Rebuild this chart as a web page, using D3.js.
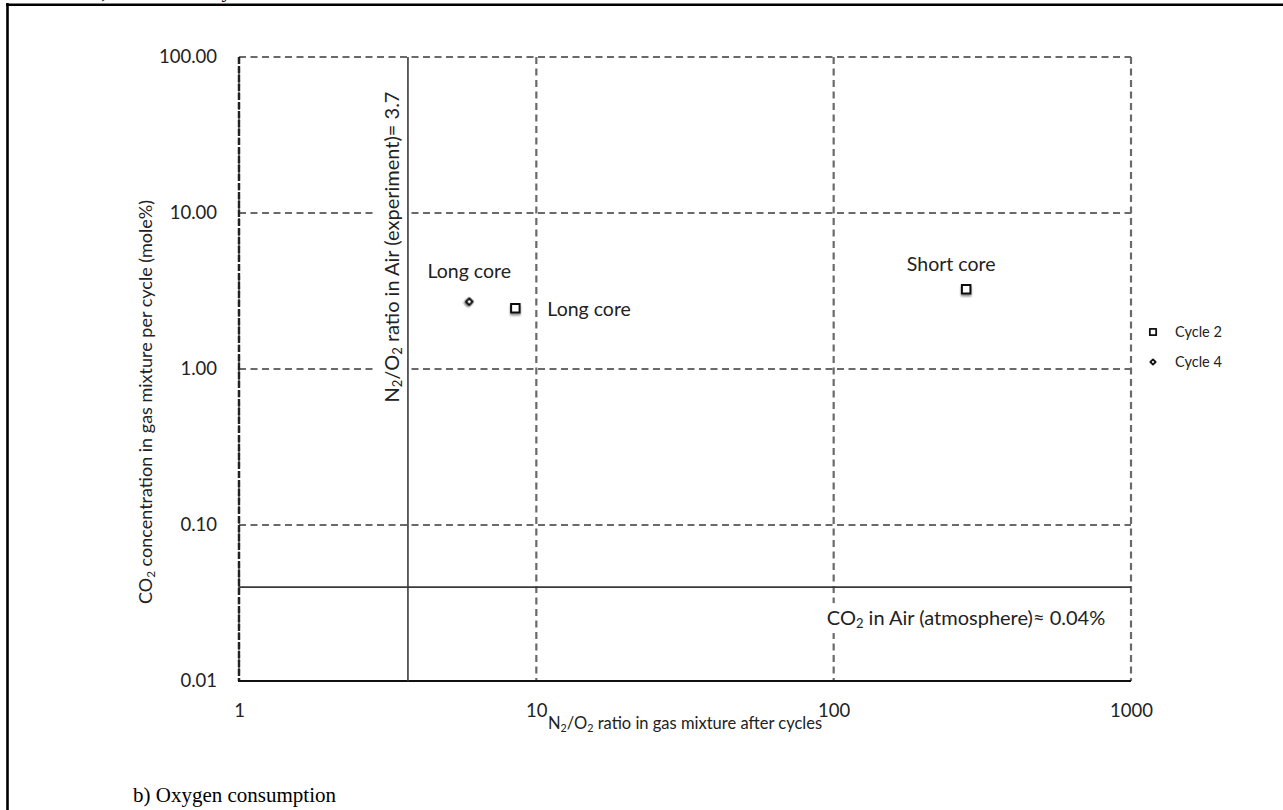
<!DOCTYPE html>
<html>
<head>
<meta charset="utf-8">
<script src="https://cdn.jsdelivr.net/npm/d3@7"></script>
<style>
  html, body { margin: 0; padding: 0; background: #fff; }
  svg { display: block; }
</style>
</head>
<body>
<svg id="chart" width="1283" height="810"></svg>
<script>
// Tick values for both logarithmic axes
const xTicks = [1, 10, 100, 1000];
const yTicks = [0.01, 0.1, 1, 10, 100];

// Measured samples: N2/O2 ratio after cycles vs CO2 concentration per cycle
const seriesNames = ["Cycle 2", "Cycle 4"];
const cycle2Ratio = [8.5, 279];
const cycle2CO2 = [2.45, 3.25];
const cycle2Labels = ["Long core", "Short core"];
const cycle4Ratio = [5.95];
const cycle4CO2 = [2.7];
const cycle4Labels = ["Long core"];

// Reference values for air
const airRatio = 3.7;
const airCO2 = 0.04;

const svg = d3.select("#chart");
const font = "Lato, 'Open Sans', sans-serif";

const x = d3.scaleLog().domain([1, 1000]).range([239, 1131]);
const y = d3.scaleLog().domain([0.01, 100]).range([681, 57]);

const defs = svg.append("defs");
const shadow = defs.append("filter").attr("id", "shadow")
  .attr("x", "-50%").attr("y", "-50%").attr("width", "200%").attr("height", "220%");
shadow.append("feGaussianBlur").attr("in", "SourceAlpha").attr("stdDeviation", 1.3).attr("result", "b");
shadow.append("feOffset").attr("in", "b").attr("dx", 0).attr("dy", 2).attr("result", "o");
shadow.append("feComponentTransfer").attr("in", "o").attr("result", "s")
  .append("feFuncA").attr("type", "linear").attr("slope", 0.45);
const merge = shadow.append("feMerge");
merge.append("feMergeNode").attr("in", "s");
merge.append("feMergeNode").attr("in", "SourceGraphic");

// Page frame lines and surrounding captions
svg.append("line").attr("x1", 7.5).attr("x2", 7.5).attr("y1", 3).attr("y2", 810)
  .attr("stroke", "#000").attr("stroke-width", 2.6);
svg.append("line").attr("x1", 6).attr("x2", 1283).attr("y1", 4.8).attr("y2", 4.8)
  .attr("stroke", "#000").attr("stroke-width", 2.6);
svg.append("text").attr("x", 92).attr("y", -3)
  .attr("font-family", "'Liberation Serif', 'Times New Roman', serif").attr("font-size", 21)
  .text("a) CO2 recovery");
svg.append("text").attr("x", 133).attr("y", 802)
  .attr("font-family", "'Liberation Serif', 'Times New Roman', serif").attr("font-size", 21)
  .attr("fill", "#000")
  .text("b) Oxygen consumption");

// Dashed grid
const grid = svg.append("g").attr("stroke", "#6a6a6a").attr("stroke-width", 2.2)
  .attr("stroke-dasharray", "7,4.5").attr("fill", "none");
grid.selectAll(".gy").data(yTicks.filter(d => d > 0.01)).join("line")
  .attr("x1", x(1)).attr("x2", x(1000))
  .attr("y1", d => y(d)).attr("y2", d => y(d));
grid.selectAll(".gx").data(xTicks).join("line")
  .attr("y1", y(100)).attr("y2", y(0.01))
  .attr("x1", d => x(d)).attr("x2", d => x(d));

// Axis lines
svg.append("line").attr("x1", x(1)).attr("x2", x(1)).attr("y1", y(100)).attr("y2", y(0.01))
  .attr("stroke", "#222").attr("stroke-width", 2.4).attr("stroke-dasharray", "7,2");
svg.append("line").attr("x1", x(1) - 1).attr("x2", x(1000)).attr("y1", y(0.01)).attr("y2", y(0.01))
  .attr("stroke", "#111").attr("stroke-width", 2);

// Reference lines for air
svg.append("line").attr("x1", x(airRatio)).attr("x2", x(airRatio))
  .attr("y1", y(100)).attr("y2", y(0.01)).attr("stroke", "#3a3a3a").attr("stroke-width", 1.6);
svg.append("line").attr("x1", x(1)).attr("x2", x(1000))
  .attr("y1", y(airCO2)).attr("y2", y(airCO2)).attr("stroke", "#3a3a3a").attr("stroke-width", 1.6);

// Axes ticks
const xAxis = svg.append("g").attr("transform", `translate(0,${y(0.01)})`)
  .call(d3.axisBottom(x).tickValues(xTicks).tickFormat(d3.format("d")).tickSize(0).tickPadding(23));
const yAxis = svg.append("g").attr("transform", `translate(${x(1)},0)`)
  .call(d3.axisLeft(y).tickValues(yTicks).tickFormat(d3.format(".2f")).tickSize(0).tickPadding(22));
[xAxis, yAxis].forEach(a => {
  a.select(".domain").remove();
  a.selectAll("text").attr("font-family", font).attr("font-size", 18.5).attr("fill", "#222");
});

// Axis titles with subscripts
function subText(sel, parts, size) {
  parts.forEach(p => {
    const t = sel.append("tspan").text(p[0]);
    if (p[1]) t.attr("font-size", size * 0.65).attr("baseline-shift", "-25%");
  });
}
const xt = svg.append("text").attr("x", 685).attr("y", 729).attr("text-anchor", "middle")
  .attr("font-family", font).attr("font-size", 16.5).attr("fill", "#222");
subText(xt, [["N"], ["2", true], ["/O"], ["2", true], [" ratio in gas mixture after cycles"]], 16.5);

const yt = svg.append("text").attr("transform", "translate(152,402) rotate(-90)")
  .attr("text-anchor", "middle").attr("font-family", font).attr("font-size", 18).attr("fill", "#222");
subText(yt, [["CO"], ["2", true], [" concentration in gas mixture per cycle (mole%)"]], 18);

// Annotation boxes for the air reference values
const vLabel = svg.append("g").attr("transform", `translate(${x(airRatio) - 16},247) rotate(-90)`);
vLabel.append("rect").attr("x", -172).attr("y", -15).attr("width", 344).attr("height", 30).attr("fill", "#fff");
const vt = vLabel.append("text").attr("text-anchor", "middle").attr("dy", "0.35em")
  .attr("font-family", font).attr("font-size", 20).attr("fill", "#222");
subText(vt, [["N"], ["2", true], ["/O"], ["2", true], [" ratio in Air (experiment)= " + airRatio]], 20);

const hLabel = svg.append("g").attr("transform", `translate(966,${y(airCO2) + 31})`);
hLabel.append("rect").attr("x", -150).attr("y", -15).attr("width", 300).attr("height", 30).attr("fill", "#fff");
const ht = hLabel.append("text").attr("text-anchor", "middle").attr("dy", "0.35em")
  .attr("font-family", font).attr("font-size", 20).attr("fill", "#222");
subText(ht, [["CO"], ["2", true], [" in Air (atmosphere)\u2248 " + airCO2 + "%"]], 20);

// Data markers
const c2 = cycle2Ratio.map((r, i) => ({ r, c: cycle2CO2[i], label: cycle2Labels[i] }));
const c4 = cycle4Ratio.map((r, i) => ({ r, c: cycle4CO2[i], label: cycle4Labels[i] }));

const square = d3.symbol().type(d3.symbolSquare).size(72);
const diamond = d3.symbol().type(d3.symbolSquare).size(22);

svg.append("g").selectAll("path").data(c2).join("path")
  .attr("d", square).attr("transform", d => `translate(${x(d.r)},${y(d.c)})`)
  .attr("fill", "#fff").attr("stroke", "#111").attr("stroke-width", 2).attr("filter", "url(#shadow)");
svg.append("g").selectAll("path").data(c4).join("path")
  .attr("d", diamond).attr("transform", d => `translate(${x(d.r)},${y(d.c)}) rotate(45)`)
  .attr("fill", "#fff").attr("stroke", "#111").attr("stroke-width", 2.2)
  .attr("stroke-linejoin", "round").attr("filter", "url(#shadow)");

// Point labels
const lab = svg.append("g").attr("font-family", font).attr("font-size", 19.5).attr("fill", "#222");
lab.append("text").attr("x", x(c4[0].r)).attr("y", y(c4[0].c) - 24)
  .attr("text-anchor", "middle").text(c4[0].label);
lab.append("text").attr("x", x(c2[0].r) + 32).attr("y", y(c2[0].c) + 8).text(c2[0].label);
lab.append("text").attr("x", x(c2[1].r) - 15).attr("y", y(c2[1].c) - 18)
  .attr("text-anchor", "middle").text(c2[1].label);

// Legend
const legend = svg.append("g").attr("transform", "translate(1153,332)");
seriesNames.forEach((name, i) => {
  const g = legend.append("g").attr("transform", `translate(0,${i * 30})`);
  g.append("path")
    .attr("d", i === 0 ? d3.symbol().type(d3.symbolSquare).size(40)() : d3.symbol().type(d3.symbolSquare).size(14)())
    .attr("transform", i === 0 ? null : "rotate(45)")
    .attr("fill", "#fff").attr("stroke", "#111").attr("stroke-width", 1.8).attr("stroke-linejoin", "round");
  g.append("text").attr("x", 22).attr("dy", "0.35em").attr("font-family", font)
    .attr("font-size", 14.5).attr("fill", "#222").text(name);
});
</script>
</body>
</html>
